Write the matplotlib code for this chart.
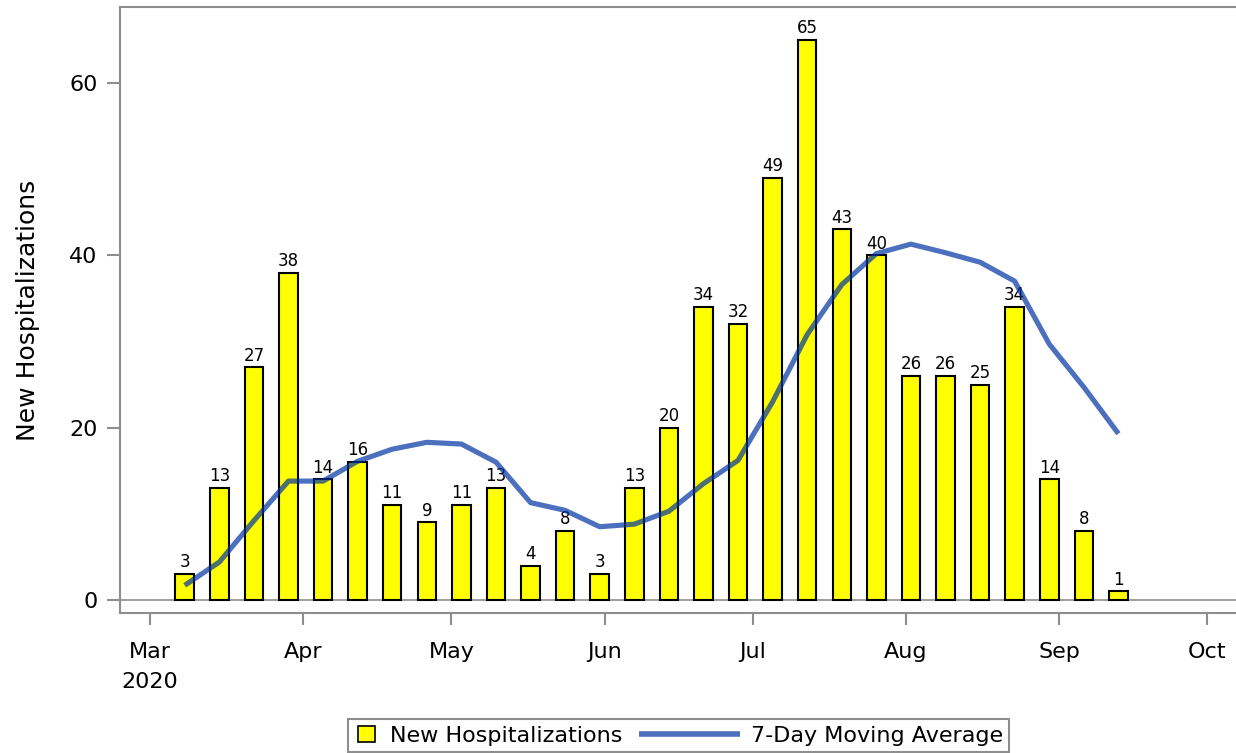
import numpy as np
import pandas as pd
import matplotlib
matplotlib.use('Agg')
import matplotlib.pyplot as plt
from matplotlib.lines import Line2D
from matplotlib.patches import Patch, Rectangle
from matplotlib.legend_handler import HandlerLine2D, HandlerPatch

plt.rcParams['font.family'] = ['DejaVu Sans']

# weekly data, week starting Sunday
week_start = pd.date_range('2020-03-08', periods=28, freq='7D')
new_hosp = [3, 13, 27, 38, 14, 16, 11, 9, 11, 13, 4, 8, 3, 13,
            20, 34, 32, 49, 65, 43, 40, 26, 26, 25, 34, 14, 8, 1]
moving_avg = [1.7, 4.4, 9.2, 13.8, 13.8, 16.1, 17.5, 18.3, 18.1, 16.0,
              11.3, 10.4, 8.5, 8.8, 10.3, 13.5, 16.2, 23.0, 30.8, 36.6,
              40.2, 41.3, 40.3, 39.2, 37.0, 29.7, 24.7, 19.3]

month_ticks = pd.date_range('2020-03-01', periods=8, freq='MS')
month_labels = ['Mar\n2020', 'Apr', 'May', 'Jun', 'Jul', 'Aug', 'Sep', 'Oct']

GRAY = '#8e8e8e'
BLUE = '#0033a2'


class LongLine(HandlerLine2D):
    # line handle is longer than the square handle
    def get_xdata(self, legend, xdescent, ydescent, width, height, fontsize):
        end = width - xdescent - 3.8
        x = np.array([end - 73.0, end])
        return x, x


def small_square(legend, orig_handle, xdescent, ydescent, width, height, fontsize):
    w, h = 12.2, 11.5
    return Rectangle((-xdescent + 3.0, -ydescent + (height - h) / 2), w, h)


fig = plt.figure(figsize=(12.36, 7.53), dpi=100)
ax = fig.add_axes([120.5 / 1236, 1 - 613 / 753, 1 - 120.5 / 1236, (613 - 7) / 753])

bars = ax.bar(week_start, new_hosp, width=3.75, color='#ffff00',
              edgecolor='black', linewidth=1.5, zorder=2)
ax.bar_label(bars, padding=2, fontsize=12)
ax.plot(week_start, moving_avg, color=BLUE, alpha=0.7, lw=3.7,
        solid_capstyle='butt', solid_joinstyle='round', zorder=3)
ax.axhline(0, color=GRAY, lw=1.2, zorder=1)

ax.set_xlim(pd.Timestamp('2020-02-24'), pd.Timestamp('2020-02-24') + pd.Timedelta(days=225.8))
ax.set_ylim(-1.51, 68.82)
ax.set_xticks(month_ticks)
ax.set_xticklabels(month_labels, linespacing=1.65)
ax.set_yticks([0, 20, 40, 60])

for s in ['left', 'top', 'bottom']:
    ax.spines[s].set_color(GRAY)
    ax.spines[s].set_linewidth(1.5)
ax.spines['right'].set_visible(False)

ax.tick_params(axis='both', colors=GRAY, width=1.5, labelcolor='black', labelsize=16)
ax.tick_params(axis='y', length=9.4, pad=7)
ax.tick_params(axis='x', length=8.6, pad=12)
ax.set_ylabel('New Hospitalizations', fontsize=18, labelpad=21)

h_bar = Patch(facecolor='#ffff00', edgecolor='black', linewidth=1.2)
h_line = Line2D([], [], color=BLUE, alpha=0.7, lw=4.0, solid_capstyle='butt')
leg = fig.legend([h_bar, h_line], ['New Hospitalizations', '7-Day Moving Average'],
                 loc='center', bbox_to_anchor=(678.5 / 1236, 1 - 735.5 / 753),
                 ncol=2, fontsize=16, handlelength=1.4, handleheight=0.7,
                 handletextpad=0.225, columnspacing=4.13, borderpad=0.3,
                 fancybox=False, framealpha=1, edgecolor=GRAY,
                 handler_map={Line2D: LongLine(),
                              Patch: HandlerPatch(patch_func=small_square)})
leg.get_frame().set_linewidth(1.5)

fig.savefig('out.png', dpi=100)
